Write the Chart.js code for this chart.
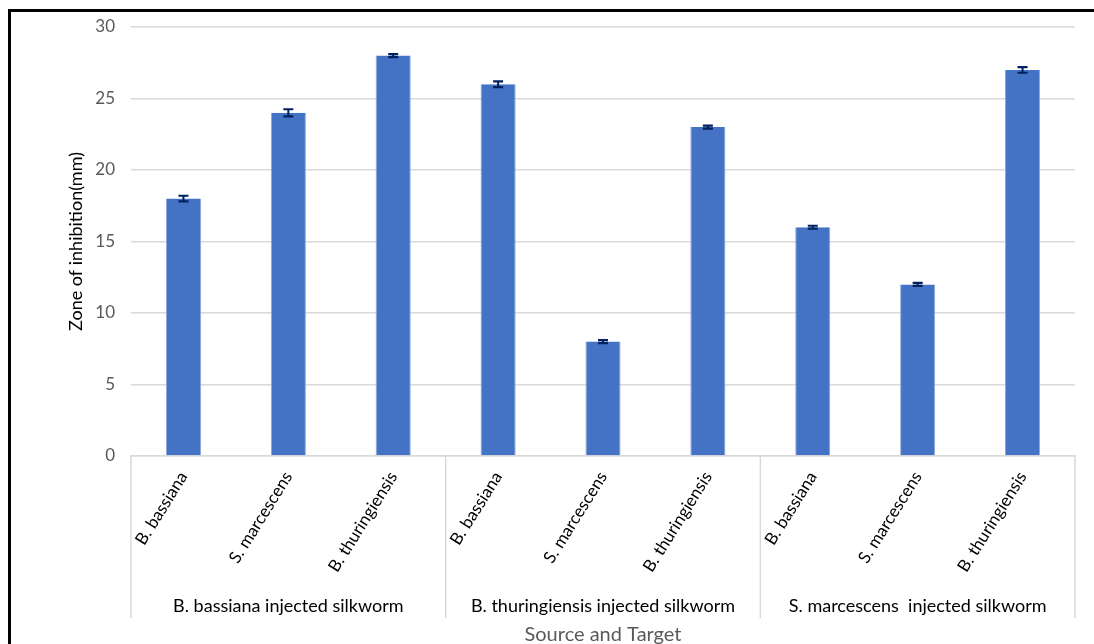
<!DOCTYPE html>
<html>
<head>
<meta charset="utf-8">
<script src="https://cdn.jsdelivr.net/npm/chart.js@4.4.1/dist/chart.umd.min.js"></script>
<style>
  html, body { margin: 0; padding: 0; background: #fff; overflow: hidden; }
  #wrap { position: relative; width: 1094px; height: 644px; overflow: hidden; }
  #frame { position: absolute; left: 8px; top: 9px; width: 1200px; height: 800px; border: 3px solid #000; box-sizing: border-box; }
  #box { position: absolute; left: 0; top: 0; width: 1094px; height: 664px; }
</style>
</head>
<body>
<div id="wrap">
  <div id="frame"></div>
  <div id="box"><canvas id="chart"></canvas></div>
</div>
<script>
// categories (target organism) and groups (source silkworm)
const targets = ['B. bassiana', 'S. marcescens', 'B. thuringiensis',
                 'B. bassiana', 'S. marcescens', 'B. thuringiensis',
                 'B. bassiana', 'S. marcescens', 'B. thuringiensis'];
const groups = ['B. bassiana injected silkworm',
                'B. thuringiensis injected silkworm',
                'S. marcescens  injected silkworm'];
const zoneValues = [18, 24, 28, 26, 8, 23, 16, 12, 27];
const zoneErrors = [0.2, 0.25, 0.1, 0.2, 0.1, 0.1, 0.1, 0.1, 0.2];

const FONT = 'Lato, "Open Sans", sans-serif';
const GRID = '#d9d9d9';

// error bars drawn through the y scale
const errorBars = {
  id: 'errorBars',
  afterDatasetsDraw(chart) {
    const ctx = chart.ctx;
    const y = chart.scales.y;
    const meta = chart.getDatasetMeta(0);
    ctx.save();
    ctx.strokeStyle = '#002060';
    meta.data.forEach((bar, i) => {
      const top = y.getPixelForValue(zoneValues[i] + zoneErrors[i]);
      const bot = y.getPixelForValue(zoneValues[i] - zoneErrors[i]);
      ctx.lineWidth = 2;
      ctx.beginPath();
      ctx.moveTo(bar.x, top);
      ctx.lineTo(bar.x, bot);
      ctx.stroke();
      ctx.lineWidth = 2.2;
      ctx.beginPath();
      ctx.moveTo(bar.x - 5, top);
      ctx.lineTo(bar.x + 5, top);
      ctx.moveTo(bar.x - 5, bot);
      ctx.lineTo(bar.x + 5, bot);
      ctx.stroke();
    });
    ctx.restore();
  }
};

// group separators, group labels and the y title
const groupAxis = {
  id: 'groupAxis',
  afterDraw(chart) {
    const ctx = chart.ctx;
    const x = chart.scales.x;
    const y = chart.scales.y;
    const step = (x.getPixelForValue(1) - x.getPixelForValue(0));
    ctx.save();
    ctx.strokeStyle = GRID;
    ctx.lineWidth = 1.5;
    for (let g = 0; g <= groups.length; g++) {
      const px = x.getPixelForValue(g * 3) - step / 2;
      ctx.beginPath();
      ctx.moveTo(px, x.top);
      ctx.lineTo(px, 618);
      ctx.stroke();
    }
    ctx.fillStyle = '#000';
    ctx.font = '18px ' + FONT;
    ctx.textAlign = 'center';
    ctx.textBaseline = 'middle';
    groups.forEach((name, g) => {
      ctx.fillText(name, x.getPixelForValue(g * 3 + 1), 606);
    });
    ctx.translate(76, (y.top + y.bottom) / 2);
    ctx.rotate(-Math.PI / 2);
    ctx.fillText('Zone of inhibition(mm)', 0, 0);
    ctx.restore();
  }
};

new Chart(document.getElementById('chart'), {
  type: 'bar',
  data: {
    labels: targets,
    datasets: [{
      data: zoneValues,
      backgroundColor: '#4472c4',
      borderColor: '#8ea9db',
      borderWidth: { left: 1, right: 1, top: 0, bottom: 0 },
      barPercentage: 0.335,
      categoryPercentage: 1
    }]
  },
  options: {
    responsive: true,
    maintainAspectRatio: false,
    animation: false,
    layout: { padding: { left: 0, right: 19, top: 27, bottom: 0 } },
    plugins: { legend: { display: false }, tooltip: { enabled: false } },
    scales: {
      y: {
        min: 0,
        max: 30,
        ticks: { stepSize: 5, padding: 16, color: '#595959', font: { family: FONT, size: 17 } },
        grid: { color: GRID, lineWidth: 1.5, drawTicks: false },
        border: { display: false },
        afterFit(scale) { scale.width = 131; }
      },
      x: {
        ticks: { minRotation: 58, maxRotation: 58, padding: 12, color: '#000', font: { family: FONT, size: 17 } },
        grid: { display: false, drawTicks: false },
        border: { display: true, color: GRID, width: 1.5 },
        title: {
          display: true,
          text: 'Source and Target',
          color: '#595959',
          font: { family: FONT, size: 20 },
          padding: { top: 0, bottom: 17 }
        },
        afterFit(scale) { scale.height = 208; }
      }
    }
  },
  plugins: [errorBars, groupAxis]
});
</script>
</body>
</html>
